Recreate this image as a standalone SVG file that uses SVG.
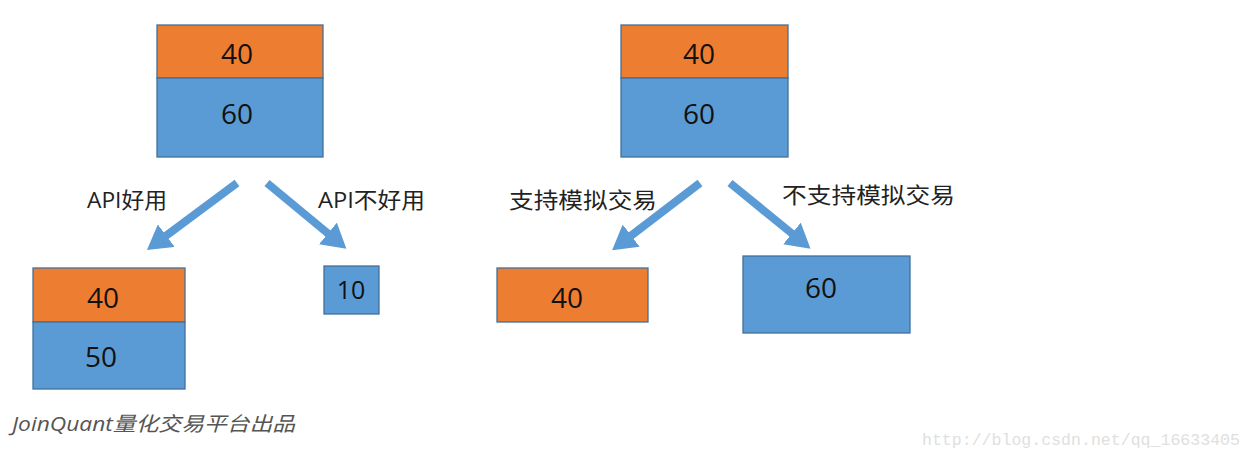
<svg xmlns="http://www.w3.org/2000/svg" width="1252" height="460" viewBox="0 0 1252 460">
<defs>
<style>
.o{fill:#ED7D31;stroke:#41719C;stroke-width:1.3}
.b{fill:#5B9BD5;stroke:#41719C;stroke-width:1.3}
.n{font-family:"Open Sans","Noto Sans",sans-serif;font-size:28px;fill:#111;text-anchor:middle}
.l{font-family:"Open Sans","Noto Sans CJK SC",sans-serif;font-size:22px;fill:#222}
.c{stroke:#5B9BD5;stroke-width:8;fill:none;marker-end:url(#ah)}
</style>
<marker id="ah" markerUnits="userSpaceOnUse" markerWidth="26" markerHeight="28" refX="4" refY="14" orient="auto">
<path d="M0,0 L24,14 L0,28 Z" fill="#5B9BD5"/>
</marker>
</defs>
<rect width="1252" height="460" fill="#fff"/>
<g id="root-left">
<rect class="o" x="157" y="25" width="166" height="53"/>
<rect class="b" x="157" y="78" width="166" height="79"/>
<text class="n" x="237" y="64">40</text>
<text class="n" x="237" y="124">60</text>
</g>
<g id="root-right">
<rect class="o" x="621" y="25" width="167" height="53"/>
<rect class="b" x="621" y="78" width="167" height="79"/>
<text class="n" x="699" y="64">40</text>
<text class="n" x="699" y="124">60</text>
</g>
<g id="api-good">
<rect class="o" x="33" y="268" width="152" height="54"/>
<rect class="b" x="33" y="322" width="152" height="67"/>
<text class="n" x="103" y="308">40</text>
<text class="n" x="101" y="367">50</text>
</g>
<g id="api-bad">
<rect class="b" x="324" y="266" width="55" height="48"/>
<text class="n" x="351" y="299" style="font-size:25px">10</text>
</g>
<g id="sim-yes">
<rect class="o" x="497" y="268" width="151" height="54"/>
<text class="n" x="567" y="308">40</text>
</g>
<g id="sim-no">
<rect class="b" x="743" y="256" width="167" height="77"/>
<text class="n" x="821" y="298">60</text>
</g>
<g id="connectors">
<line class="c" x1="237" y1="183" x2="163" y2="238"/>
<line class="c" x1="267" y1="183" x2="331" y2="236"/>
<line class="c" x1="700" y1="183" x2="628" y2="238"/>
<line class="c" x1="730" y1="183" x2="795" y2="236"/>
<text class="l" x="87" y="208" textLength="80" lengthAdjust="spacingAndGlyphs">API好用</text>
<text class="l" x="318" y="208" textLength="107" lengthAdjust="spacingAndGlyphs">API不好用</text>
<text class="l" x="509" y="208" textLength="148" lengthAdjust="spacingAndGlyphs">支持模拟交易</text>
<text class="l" x="782" y="203" textLength="173" lengthAdjust="spacingAndGlyphs">不支持模拟交易</text>
</g>
<text x="12" y="431" font-family="'Open Sans','Noto Sans CJK SC',sans-serif" font-size="20" font-style="italic" fill="#555" textLength="283" lengthAdjust="spacingAndGlyphs">JoinQuant量化交易平台出品</text>
<text x="922" y="445" font-family="'Liberation Mono',monospace" font-size="16.5" fill="#e0e0e0" textLength="318" lengthAdjust="spacingAndGlyphs">http://blog.csdn.net/qq_16633405</text>
</svg>
